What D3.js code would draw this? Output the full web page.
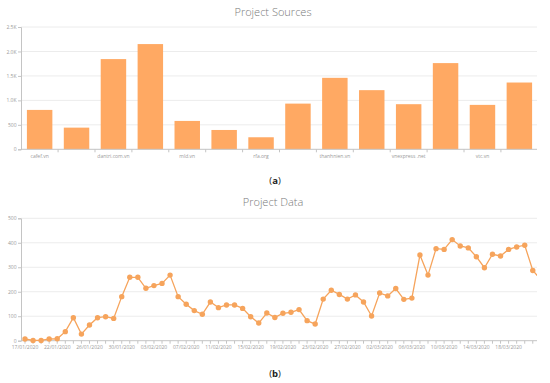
<!DOCTYPE html>
<html><head><meta charset="utf-8">
<script src="https://cdn.jsdelivr.net/npm/d3@7"></script>
<style>
html,body{margin:0;padding:0;background:#fff;}
svg{display:block;}
text{font-family:"Open Sans","Noto Sans",sans-serif;}
</style></head>
<body>
<svg id="c" width="550" height="383"></svg>
<script>
// ---- data ----
const sources = ["cafef.vn","cand.com.vn","dantri.com.vn","kenh14.vn","mld.vn","nld.com.vn","rfa.org","soha.vn","thanhnien.vn","tuoitre.vn","vnexpress .net","vov.vn","vtc.vn","zing.vn"];
const sourceCounts = [805,443,1844,2151,580,395,246,934,1461,1209,922,1762,908,1365];
const sourceTicks = [0,500,1000,1500,2000,2500];
const sourceTickLabels = ["0","500","1.0K","1.5K","2.0K","2.5K"];

const dates = ["17/01/2020","18/01/2020","20/01/2020","21/01/2020","22/01/2020","23/01/2020","24/01/2020","25/01/2020","26/01/2020","27/01/2020","28/01/2020","29/01/2020","30/01/2020","31/01/2020","01/02/2020","02/02/2020","03/02/2020","04/02/2020","05/02/2020","06/02/2020","07/02/2020","08/02/2020","09/02/2020","10/02/2020","11/02/2020","12/02/2020","13/02/2020","14/02/2020","15/02/2020","16/02/2020","17/02/2020","18/02/2020","19/02/2020","20/02/2020","21/02/2020","22/02/2020","23/02/2020","24/02/2020","25/02/2020","26/02/2020","27/02/2020","28/02/2020","29/02/2020","01/03/2020","02/03/2020","03/03/2020","04/03/2020","05/03/2020","06/03/2020","07/03/2020","08/03/2020","09/03/2020","10/03/2020","11/03/2020","12/03/2020","13/03/2020","14/03/2020","15/03/2020","16/03/2020","17/03/2020","18/03/2020","19/03/2020","20/03/2020","21/03/2020","22/03/2020"];
const dailyCounts = [7,1,1,7,8,37,94,27,64,94,98,91,180,259,259,214,225,234,268,180,149,123,108,158,135,146,146,132,98,72,113,95,112,116,127,82,68,170,206,189,170,187,158,101,195,183,213,169,174,350,268,376,373,413,387,379,343,298,353,346,373,383,390,287,250];
const dailyTicks = [0,100,200,300,400,500];

// ---- styles ----
const barColor = "#FFA963", lineColor = "#F6A45C";
const axisColor = "#c4c4c4", gridColor = "#ececec", labelColor = "#9a9a9a", titleColor = "#7a7a7a";
const titleFont = "'Open Sans', sans-serif";

const svg = d3.select("#c");

// ===== Chart (a) =====
const A = {left:21, right:537, top:27, bottom:149.3};
const xa = d3.scaleBand().domain(sources).range([A.left, A.right+1]).paddingInner(0.31).paddingOuter(0.16);
const ya = d3.scaleLinear().domain([0,2500]).range([A.bottom, A.top]);
const ga = svg.append("g");

ga.append("text").attr("x",273).attr("y",15.5).attr("text-anchor","middle").attr("font-family",titleFont)
  .attr("font-size",11).attr("font-weight",300).attr("fill",titleColor).text("Project Sources");

ga.append("g").selectAll("line").data(sourceTicks.slice(1)).join("line")
  .attr("x1",A.left).attr("x2",A.right).attr("y1",d=>ya(d)).attr("y2",d=>ya(d))
  .attr("stroke",gridColor).attr("stroke-width",1);

ga.append("g").selectAll("rect").data(sources).join("rect")
  .attr("x",d=>xa(d)).attr("width",xa.bandwidth())
  .attr("y",(d,i)=>ya(sourceCounts[i])).attr("height",(d,i)=>ya(0)-ya(sourceCounts[i]))
  .attr("fill",barColor);

const yAxisA = d3.axisLeft(ya).tickValues(sourceTicks).tickFormat((d,i)=>sourceTickLabels[i]).tickSize(3).tickPadding(1.5);
const gya = ga.append("g").attr("transform",`translate(${A.left},0)`).call(yAxisA);
gya.select(".domain").attr("stroke",axisColor);
gya.selectAll(".tick line").attr("stroke",axisColor);
gya.selectAll(".tick text").attr("font-size",5).attr("fill",labelColor).attr("font-family","Open Sans, sans-serif");

// x axis a
const gxa = ga.append("g");
gxa.append("line").attr("x1",A.left).attr("x2",A.right).attr("y1",A.bottom).attr("y2",A.bottom).attr("stroke",axisColor);
const stepA = xa.step();
gxa.selectAll("line.t").data(sources.slice(1)).join("line").attr("class","t")
  .attr("x1",d=>xa(d)-stepA*0.155).attr("x2",d=>xa(d)-stepA*0.155)
  .attr("y1",A.bottom).attr("y2",A.bottom+3).attr("stroke",axisColor);
gxa.selectAll("text").data(sources.filter((d,i)=>i%2===0)).join("text")
  .attr("x",d=>xa(d)+xa.bandwidth()/2).attr("y",A.bottom+9).attr("text-anchor","middle")
  .attr("font-size",5).attr("fill",labelColor).text(d=>d);

svg.append("text").attr("x",275).attr("y",184).attr("text-anchor","middle")
  .attr("font-family","DejaVu Serif, serif").attr("font-size",9.5).attr("fill","#222")
  .html('(<tspan font-weight="bold">a</tspan>)');

// ===== Chart (b) =====
const B = {left:21, right:537, top:218.3, bottom:340.7};
const xb = d3.scalePoint().domain(dates).range([25, 25 + 8.06*(dates.length-1)]);
const yb = d3.scaleLinear().domain([0,500]).range([B.bottom, B.top]);
const gb = svg.append("g");

gb.append("text").attr("x",273).attr("y",205.5).attr("text-anchor","middle").attr("font-family",titleFont)
  .attr("font-size",11).attr("font-weight",300).attr("fill",titleColor).text("Project Data");

gb.append("g").selectAll("line").data(dailyTicks.slice(1)).join("line")
  .attr("x1",B.left).attr("x2",B.right).attr("y1",d=>yb(d)).attr("y2",d=>yb(d))
  .attr("stroke",gridColor).attr("stroke-width",1);

const yAxisB = d3.axisLeft(yb).tickValues(dailyTicks).tickSize(3).tickPadding(1.5);
const gyb = gb.append("g").attr("transform",`translate(${B.left},0)`).call(yAxisB);
gyb.select(".domain").attr("stroke",axisColor);
gyb.selectAll(".tick line").attr("stroke",axisColor);
gyb.selectAll(".tick text").attr("font-size",5).attr("fill",labelColor).attr("font-family","Open Sans, sans-serif");

const gxb = gb.append("g");
gxb.append("line").attr("x1",B.left).attr("x2",B.right).attr("y1",B.bottom).attr("y2",B.bottom).attr("stroke",axisColor);
gxb.selectAll("line.t").data(dates.filter(d=>xb(d)<=B.right)).join("line").attr("class","t")
  .attr("x1",d=>xb(d)).attr("x2",d=>xb(d)).attr("y1",B.bottom).attr("y2",B.bottom+3).attr("stroke",axisColor);
gxb.selectAll("text").data(dates.filter((d,i)=>i%4===0 && xb(d)<=B.right)).join("text")
  .attr("x",d=>xb(d)).attr("y",B.bottom+8.5).attr("text-anchor","middle")
  .attr("font-size",5).attr("fill",labelColor).text(d=>d);

svg.append("defs").append("clipPath").attr("id","clipB").append("rect")
  .attr("x",B.left).attr("y",B.top-10).attr("width",B.right-B.left).attr("height",B.bottom-B.top+15);

const plot = gb.append("g").attr("clip-path","url(#clipB)");
const line = d3.line().x((d,i)=>xb(dates[i])).y(d=>yb(d));
plot.append("path").datum(dailyCounts).attr("d",line).attr("fill","none")
  .attr("stroke",lineColor).attr("stroke-width",1.3);
plot.selectAll("circle").data(dailyCounts).join("circle")
  .attr("cx",(d,i)=>xb(dates[i])).attr("cy",d=>yb(d)).attr("r",2.7).attr("fill",lineColor);

svg.append("text").attr("x",275).attr("y",377).attr("text-anchor","middle")
  .attr("font-family","DejaVu Serif, serif").attr("font-size",9.5).attr("fill","#222")
  .html('(<tspan font-weight="bold">b</tspan>)');
</script>
</body></html>
